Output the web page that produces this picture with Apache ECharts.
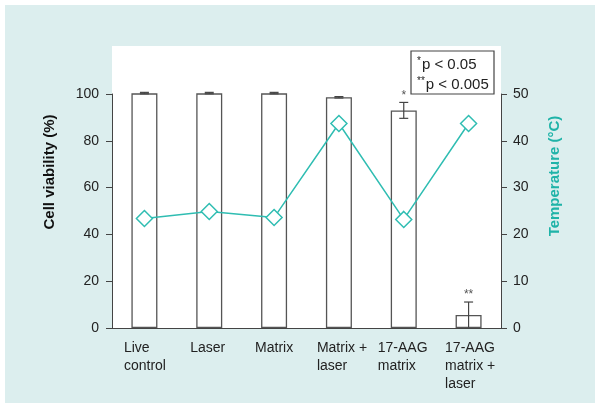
<!DOCTYPE html>
<html>
<head>
<meta charset="utf-8">
<script src="https://cdn.jsdelivr.net/npm/echarts@6/dist/echarts.min.js"></script>
<style>
html,body{margin:0;padding:0;background:#ffffff;}
#chart{width:601px;height:409px;}
</style>
</head>
<body>
<div id="chart"></div>
<script>
// ---- data ----
var categories = ['Live\ncontrol', 'Laser', 'Matrix', 'Matrix +\nlaser', '17-AAG\nmatrix', '17-AAG\nmatrix +\nlaser'];
var viability = [100.4, 100.4, 100.4, 98.6, 93.0, 5.6];
var viabilityErr = [0.3, 0.3, 0.3, 0.3, 3.4, 5.5];
var significance = ['', '', '', '', '*', '**'];
var temperature = [23.4, 24.9, 23.6, 43.7, 23.2, 43.7];
var leftTicks = [0, 20, 40, 60, 80, 100];
var rightTicks = [0, 10, 20, 30, 40, 50];
var leftTitle = 'Cell viability (%)';
var rightTitle = 'Temperature (\u00B0C)';
var legendLines = ['{s|*}p < 0.05', '{s|**}p < 0.005'];

// ---- styles ----
var FONT = 'Liberation Sans, Arial, Helvetica, sans-serif';
var TEAL = '#2fbdb2';
var TEAL_TEXT = '#1fb3a8';
var labelWidths = [41, 38, 38, 44, 52, 47];

var chart = echarts.init(document.getElementById('chart'), null, {renderer: 'canvas'});

var rich = {};
labelWidths.forEach(function (w, i) {
  rich['c' + i] = {width: w, align: 'left', fontSize: 14, fontFamily: FONT, color: '#222', lineHeight: 18};
});

var errData = viability.map(function (v, i) { return [i, v, viabilityErr[i]]; });

var option = {
  backgroundColor: '#ffffff',
  animation: false,
  grid: {left: 112, right: 100, top: 94, bottom: 81, containLabel: false},
  graphic: {
    elements: [
      {type: 'rect', z: -10, shape: {x: 5, y: 5, width: 590, height: 398}, style: {fill: '#dceeee'}},
      {type: 'rect', z: -9, shape: {x: 112, y: 46, width: 389, height: 282}, style: {fill: '#ffffff'}},
      {type: 'rect', z: 10, shape: {x: 411, y: 51, width: 83, height: 43}, style: {fill: '#ffffff', stroke: '#444', lineWidth: 1.2}},
      {type: 'text', z: 11, x: 417, y: 65, style: {text: legendLines[0], font: '15px ' + FONT, fill: '#222', textVerticalAlign: 'middle',
        rich: {s: {fontSize: 10, fontFamily: FONT, fill: '#222', padding: [0, 1, 7, 0]}}}},
      {type: 'text', z: 11, x: 417, y: 85, style: {text: legendLines[1], font: '15px ' + FONT, fill: '#222', textVerticalAlign: 'middle',
        rich: {s: {fontSize: 10, fontFamily: FONT, fill: '#222', padding: [0, 1, 7, 0]}}}},
      {type: 'text', x: 50, y: 172, rotation: Math.PI / 2, style: {text: leftTitle, font: 'bold 15px ' + FONT, fill: '#111', textAlign: 'center', textVerticalAlign: 'middle'}},
      {type: 'text', x: 555, y: 176, rotation: Math.PI / 2, style: {text: rightTitle, font: 'bold 15px ' + FONT, fill: TEAL_TEXT, textAlign: 'center', textVerticalAlign: 'middle'}}
    ]
  },
  xAxis: {
    type: 'category',
    data: categories,
    boundaryGap: true,
    axisLine: {show: true, lineStyle: {color: '#444', width: 1}},
    axisTick: {show: false},
    axisLabel: {
      margin: 11,
      interval: 0,
      formatter: function (val, idx) {
        return val.split('\n').map(function (l) { return '{c' + idx + '|' + l + '}'; }).join('\n');
      },
      rich: rich
    }
  },
  yAxis: [
    {
      type: 'value', min: 0, max: 100, interval: 20, position: 'left',
      axisLine: {show: true, lineStyle: {color: '#444', width: 1}},
      axisTick: {show: true, length: 6, lineStyle: {color: '#444'}},
      splitLine: {show: false},
      axisLabel: {margin: 13, fontSize: 14, fontFamily: FONT, color: '#222',
        formatter: function (v) { return leftTicks.indexOf(v) >= 0 ? String(v) : ''; }}
    },
    {
      type: 'value', min: 0, max: 50, interval: 10, position: 'right',
      axisLine: {show: true, lineStyle: {color: '#444', width: 1}},
      axisTick: {show: true, length: 6, lineStyle: {color: '#444'}},
      splitLine: {show: false},
      axisLabel: {margin: 12, fontSize: 14, fontFamily: FONT, color: '#222',
        formatter: function (v) { return rightTicks.indexOf(v) >= 0 ? String(v) : ''; }}
    }
  ],
  series: [
    {
      type: 'bar', yAxisIndex: 0, data: viability, barWidth: 26,
      itemStyle: {color: '#ffffff', borderColor: '#555', borderWidth: 1.3},
      z: 2
    },
    {
      type: 'custom', yAxisIndex: 0, data: errData, z: 3,
      encode: {x: 0, y: 1},
      renderItem: function (params, api) {
        var i = api.value(0), v = api.value(1), e = api.value(2);
        var top = api.coord([i, v + e]);
        var lowV = Math.max(0, v - e);
        var bot = api.coord([i, lowV]);
        var hw = 4.5;
        var st = {stroke: '#444', lineWidth: 1.2};
        var ch = [
          {type: 'line', shape: {x1: top[0], y1: top[1], x2: bot[0], y2: bot[1]}, style: st},
          {type: 'line', shape: {x1: top[0] - hw, y1: top[1], x2: top[0] + hw, y2: top[1]}, style: st}
        ];
        if (lowV > 0.5) ch.push({type: 'line', shape: {x1: bot[0] - hw, y1: bot[1], x2: bot[0] + hw, y2: bot[1]}, style: st});
        var sig = significance[params.dataIndex];
        if (sig) ch.push({type: 'text', x: top[0], y: top[1] - 1, style: {text: sig, font: '12px ' + FONT, fill: '#555', textAlign: 'center', textVerticalAlign: 'bottom'}});
        return {type: 'group', children: ch};
      }
    },
    {
      type: 'line', yAxisIndex: 1, data: temperature, z: 4,
      symbol: 'diamond', symbolSize: 16,
      lineStyle: {color: TEAL, width: 1.5},
      itemStyle: {color: '#ffffff', borderColor: TEAL, borderWidth: 1.5}
    }
  ]
};
chart.setOption(option);
</script>
</body>
</html>
